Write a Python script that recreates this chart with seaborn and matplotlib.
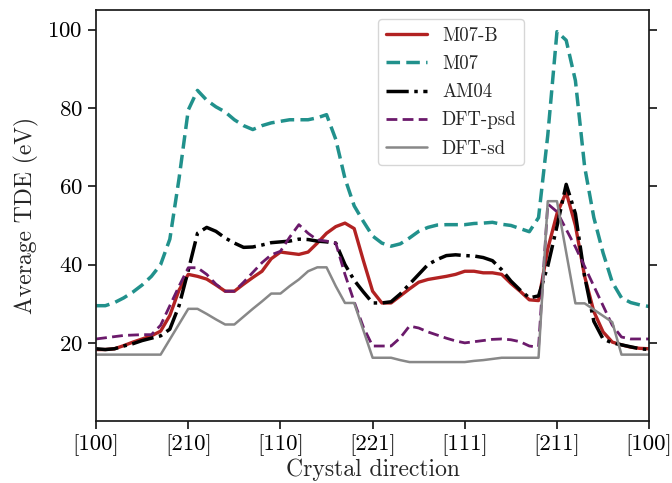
import numpy as np
import pandas as pd
import matplotlib
matplotlib.use("Agg")
import matplotlib.pyplot as plt
import seaborn as sns

# Path through the crystal directions, 10 steps per segment
directions = ["[100]", "[210]", "[110]", "[221]", "[111]", "[211]", "[100]"]
path = np.linspace(0, 6, 61)

m07b = [18.3, 18.3, 18.5, 19.3, 20.2, 21.0, 21.8, 23.0, 27.0, 33.5,
        37.5, 37.0, 36.3, 34.8, 33.2, 33.2, 35.0, 36.7, 38.3, 41.5,
        43.2, 42.9, 42.6, 43.2, 45.5, 48.0, 49.7, 50.6, 49.2, 41.0,
        33.2, 30.2, 30.2, 32.0, 33.8, 35.5, 36.2, 36.6, 37.0, 37.5,
        38.3, 38.3, 37.9, 37.9, 37.5, 35.2, 33.2, 31.0, 30.8, 44.0,
        53.0, 58.5, 50.0, 37.0, 28.0, 22.8, 20.2, 19.5, 18.9, 18.6,
        18.5]

m07 = [29.5, 29.5, 30.3, 31.5, 33.0, 34.8, 37.0, 40.0, 46.5, 62.0,
       79.5, 84.5, 82.0, 80.3, 79.0, 77.0, 75.5, 74.5, 75.5, 76.2,
       76.6, 77.0, 77.0, 77.0, 77.5, 78.3, 72.0, 62.0, 55.0, 51.0,
       47.3, 45.5, 44.7, 45.3, 46.8, 48.5, 49.5, 50.1, 50.2, 50.2,
       50.2, 50.5, 50.6, 50.8, 50.3, 50.0, 49.2, 48.4, 52.0, 73.0,
       99.5, 97.3, 87.0, 65.0, 52.0, 43.0, 35.5, 31.5, 30.3, 29.7,
       29.3]

am04 = [18.5, 18.3, 18.5, 19.2, 19.8, 20.6, 21.2, 21.8, 23.5, 29.5,
        38.5, 48.0, 49.5, 48.5, 46.8, 45.5, 44.4, 44.5, 45.0, 45.6,
        45.8, 46.0, 46.5, 46.4, 46.0, 45.8, 45.5, 40.0, 36.0, 33.0,
        30.2, 30.2, 30.5, 32.5, 35.0, 37.5, 40.0, 41.3, 42.3, 42.5,
        42.3, 42.2, 41.8, 41.0, 38.7, 35.8, 33.5, 31.5, 32.0, 39.6,
        49.8, 60.5, 53.0, 37.0, 25.5, 21.0, 20.0, 19.5, 19.0, 18.5,
        18.3]

dft_psd = [21.0, 21.3, 21.6, 21.9, 22.0, 22.1, 22.1, 24.5, 29.5, 34.5,
           39.2, 39.2, 37.5, 35.0, 33.2, 33.2, 35.5, 38.0, 40.5, 42.5,
           43.4, 47.0, 50.2, 48.0, 46.3, 46.0, 45.5, 37.5, 30.5, 24.0,
           19.2, 19.2, 19.2, 21.3, 24.3, 23.8, 22.8, 22.0, 21.2, 20.5,
           20.0, 20.3, 20.6, 20.9, 21.0, 20.8, 20.3, 19.2, 18.9, 55.5,
           53.5, 49.0, 44.5, 39.5, 34.5, 29.5, 24.5, 21.5, 21.0, 21.0,
           21.0]

dft_sd = [17.0, 17.0, 17.0, 17.0, 17.0, 17.0, 17.0, 17.0, 20.9, 24.8,
          28.7, 28.7, 27.4, 26.0, 24.7, 24.7, 26.7, 28.7, 30.6, 32.6,
          32.6, 34.5, 36.2, 38.3, 39.3, 39.3, 34.5, 30.2, 30.2, 23.2,
          16.2, 16.2, 16.2, 15.6, 15.1, 15.1, 15.1, 15.1, 15.1, 15.1,
          15.1, 15.4, 15.6, 15.9, 16.2, 16.2, 16.2, 16.2, 16.2, 56.2,
          56.2, 43.1, 30.1, 30.1, 28.5, 26.9, 25.3, 17.0, 17.0, 17.0,
          17.0]

sns.set_theme(style="ticks")
plt.rcParams["font.family"] = ["serif"]
plt.rcParams["font.serif"] = ["cmr10", "DejaVu Serif"]
plt.rcParams["mathtext.fontset"] = "cm"
plt.rcParams["axes.formatter.use_mathtext"] = True
plt.rcParams["axes.unicode_minus"] = False
plt.rcParams["axes.edgecolor"] = "#1a1a1a"

fig = plt.figure(figsize=(6.72, 4.83), dpi=100)
ax = fig.add_axes([0.143, 0.128, 0.823, 0.851])

series = [
    ("M07-B", m07b, dict(color="#b22222", linestyle="-", linewidth=2.4)),
    ("M07", m07, dict(color="#21918c", linestyle=(0, (3.9, 1.8)), linewidth=2.5)),
    ("AM04", am04, dict(color="black", linestyle="-.", linewidth=2.5)),
    ("DFT-psd", dft_psd, dict(color="#6b1a6b", linestyle=(0, (3.9, 1.9)), linewidth=2.0)),
    ("DFT-sd", dft_sd, dict(color="#888888", linestyle="-", linewidth=1.8)),
]

for name, values, style in series:
    df = pd.DataFrame({"direction": path, "tde": values})
    sns.lineplot(data=df, x="direction", y="tde", ax=ax, label=name, **style)

ax.set_xlim(0, 6)
ax.set_ylim(0, 105)
ax.set_xticks(range(len(directions)))
ax.set_xticklabels(directions)
ax.set_yticks([20, 40, 60, 80, 100])
ax.tick_params(axis="both", labelsize=16.5, colors="#1a1a1a", labelcolor="black")
ax.tick_params(axis="y", right=True)
ax.set_xlabel("Crystal direction", fontsize=17, labelpad=2)
ax.set_ylabel("Average TDE (eV)", fontsize=17, labelpad=6)

ax.legend(loc="upper left", bbox_to_anchor=(0.51, 0.978), borderaxespad=0,
          fontsize=13.5, handlelength=2.2, labelspacing=0.55, frameon=True)

fig.savefig("out.png", dpi=100)
